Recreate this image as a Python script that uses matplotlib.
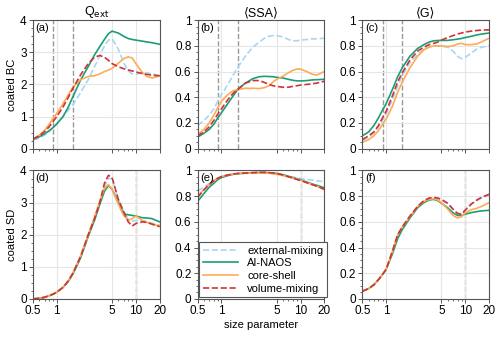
import matplotlib
matplotlib.use("Agg")
import matplotlib.pyplot as plt
from matplotlib.ticker import FixedLocator, NullFormatter, MultipleLocator

plt.rcParams['font.family'] = ['Liberation Sans', 'DejaVu Sans']
plt.rcParams['font.size'] = 8

# size parameter grid
x = [0.5, 0.6, 0.7, 0.8, 0.9, 1.0, 1.2, 1.4, 1.6, 2.0, 2.5, 3.0, 3.5, 4.0, 4.5,
     5, 6, 7, 8, 9, 10, 12, 14, 16, 20]

# (a) Qext, coated BC
qext_bc_ext = [0.27, 0.33, 0.42, 0.53, 0.66, 0.78, 1.0, 1.2, 1.37, 1.75, 2.15, 2.55, 2.9, 3.2, 3.38,
               3.42, 3.1, 2.68, 2.42, 2.33, 2.32, 2.36, 2.36, 2.33, 2.27]
qext_bc_ai = [0.29, 0.37, 0.46, 0.56, 0.66, 0.77, 1.0, 1.3, 1.62, 2.14, 2.56, 2.92, 3.18, 3.4, 3.58,
              3.66, 3.6, 3.5, 3.43, 3.4, 3.38, 3.35, 3.32, 3.3, 3.25]
qext_bc_cs = [0.3, 0.42, 0.57, 0.76, 0.95, 1.1, 1.4, 1.68, 1.92, 2.15, 2.25, 2.27, 2.33, 2.4, 2.45,
              2.5, 2.66, 2.8, 2.86, 2.82, 2.65, 2.38, 2.24, 2.2, 2.27]
qext_bc_vm = [0.3, 0.4, 0.53, 0.68, 0.85, 1.0, 1.3, 1.6, 1.88, 2.3, 2.65, 2.85, 2.9, 2.85, 2.75,
              2.65, 2.55, 2.49, 2.45, 2.42, 2.39, 2.34, 2.31, 2.29, 2.27]

# (b) SSA, coated BC
ssa_bc_ext = [0.18, 0.22, 0.26, 0.31, 0.37, 0.42, 0.5, 0.57, 0.63, 0.72, 0.79, 0.83, 0.86, 0.875, 0.88,
              0.88, 0.87, 0.85, 0.84, 0.84, 0.845, 0.85, 0.855, 0.855, 0.86]
ssa_bc_ai = [0.09, 0.12, 0.15, 0.19, 0.24, 0.28, 0.35, 0.41, 0.46, 0.51, 0.545, 0.56, 0.563, 0.562, 0.56,
             0.555, 0.55, 0.54, 0.532, 0.528, 0.527, 0.53, 0.535, 0.537, 0.54]
ssa_bc_cs = [0.11, 0.15, 0.2, 0.26, 0.32, 0.37, 0.42, 0.45, 0.46, 0.47, 0.47, 0.468, 0.475, 0.49, 0.52,
             0.54, 0.565, 0.59, 0.61, 0.62, 0.62, 0.6, 0.58, 0.573, 0.6]
ssa_bc_vm = [0.1, 0.13, 0.17, 0.22, 0.27, 0.31, 0.38, 0.43, 0.46, 0.51, 0.53, 0.53, 0.515, 0.5, 0.49,
             0.485, 0.478, 0.478, 0.485, 0.49, 0.495, 0.5, 0.505, 0.51, 0.525]

# (c) G, coated BC
g_bc_ext = [0.065, 0.09, 0.12, 0.17, 0.22, 0.27, 0.38, 0.49, 0.57, 0.67, 0.735, 0.775, 0.795, 0.8, 0.8,
            0.8, 0.79, 0.76, 0.72, 0.7, 0.71, 0.745, 0.775, 0.79, 0.8]
g_bc_ai = [0.1, 0.13, 0.18, 0.24, 0.3, 0.35, 0.46, 0.56, 0.63, 0.72, 0.78, 0.81, 0.83, 0.84, 0.842,
           0.843, 0.843, 0.848, 0.853, 0.858, 0.865, 0.875, 0.885, 0.892, 0.9]
g_bc_cs = [0.05, 0.07, 0.1, 0.14, 0.19, 0.23, 0.33, 0.44, 0.52, 0.63, 0.72, 0.77, 0.79, 0.8, 0.8,
           0.8, 0.795, 0.8, 0.815, 0.82, 0.81, 0.81, 0.815, 0.83, 0.86]
g_bc_vm = [0.07, 0.1, 0.13, 0.18, 0.24, 0.29, 0.41, 0.52, 0.59, 0.69, 0.76, 0.79, 0.81, 0.82, 0.83,
           0.845, 0.865, 0.88, 0.893, 0.9, 0.908, 0.915, 0.92, 0.923, 0.925]

# (d) Qext, coated SD
qext_sd_ext = [0.0, 0.02, 0.05, 0.1, 0.15, 0.21, 0.36, 0.56, 0.8, 1.32, 2.0, 2.5, 3.0, 3.5, 3.75,
               3.75, 3.1, 2.72, 2.48, 2.42, 2.45, 2.42, 2.4, 2.35, 2.3]
qext_sd_ai = [0.0, 0.02, 0.05, 0.1, 0.15, 0.21, 0.36, 0.55, 0.78, 1.28, 1.95, 2.45, 2.95, 3.35, 3.53,
              3.42, 3.0, 2.65, 2.62, 2.6, 2.58, 2.53, 2.52, 2.5, 2.4]
qext_sd_cs = [0.0, 0.02, 0.05, 0.1, 0.15, 0.21, 0.37, 0.57, 0.82, 1.33, 2.0, 2.55, 3.05, 3.45, 3.56,
              3.42, 2.95, 2.6, 2.45, 2.5, 2.58, 2.45, 2.38, 2.33, 2.27]
qext_sd_vm = [0.0, 0.02, 0.05, 0.1, 0.15, 0.21, 0.36, 0.56, 0.8, 1.32, 2.0, 2.5, 3.0, 3.6, 3.85,
              3.78, 3.1, 2.72, 2.4, 2.27, 2.35, 2.4, 2.38, 2.33, 2.25]

# (e) SSA, coated SD
ssa_sd_ext = [0.84, 0.87, 0.9, 0.925, 0.94, 0.95, 0.965, 0.972, 0.976, 0.978, 0.98, 0.982, 0.982, 0.98, 0.978,
              0.975, 0.965, 0.955, 0.948, 0.942, 0.937, 0.93, 0.925, 0.92, 0.912]
ssa_sd_ai = [0.76, 0.82, 0.87, 0.9, 0.93, 0.945, 0.96, 0.97, 0.975, 0.98, 0.983, 0.985, 0.985, 0.983, 0.98,
             0.977, 0.967, 0.955, 0.945, 0.935, 0.928, 0.91, 0.895, 0.885, 0.865]
ssa_sd_cs = [0.8, 0.85, 0.89, 0.92, 0.94, 0.953, 0.965, 0.972, 0.976, 0.978, 0.98, 0.98, 0.98, 0.978, 0.974,
             0.97, 0.96, 0.95, 0.94, 0.932, 0.925, 0.905, 0.89, 0.878, 0.85]
ssa_sd_vm = [0.79, 0.85, 0.89, 0.92, 0.94, 0.952, 0.965, 0.972, 0.977, 0.98, 0.983, 0.985, 0.985, 0.983, 0.98,
             0.977, 0.965, 0.952, 0.94, 0.93, 0.922, 0.905, 0.89, 0.878, 0.855]

# (f) G, coated SD
g_sd_ext = [0.06, 0.08, 0.11, 0.15, 0.19, 0.23, 0.37, 0.5, 0.56, 0.645, 0.72, 0.765, 0.785, 0.79, 0.785,
            0.772, 0.74, 0.695, 0.665, 0.665, 0.695, 0.74, 0.765, 0.785, 0.805]
g_sd_ai = [0.06, 0.08, 0.11, 0.15, 0.19, 0.23, 0.35, 0.47, 0.54, 0.63, 0.71, 0.75, 0.77, 0.775, 0.765,
           0.745, 0.71, 0.67, 0.65, 0.65, 0.66, 0.672, 0.68, 0.685, 0.69]
g_sd_cs = [0.06, 0.08, 0.11, 0.15, 0.19, 0.23, 0.37, 0.5, 0.56, 0.64, 0.72, 0.76, 0.775, 0.78, 0.77,
           0.75, 0.7, 0.65, 0.63, 0.64, 0.67, 0.695, 0.705, 0.72, 0.75]
g_sd_vm = [0.06, 0.08, 0.11, 0.15, 0.19, 0.23, 0.37, 0.5, 0.56, 0.645, 0.72, 0.765, 0.785, 0.79, 0.785,
           0.775, 0.745, 0.7, 0.665, 0.66, 0.69, 0.74, 0.77, 0.79, 0.815]

labels = ['external-mixing', 'AI-NAOS', 'core-shell', 'volume-mixing']
colors = ['#a9d6f5', '#1a9e76', '#fdab54', '#d03236']
styles = ['--', '-', '-', '--']

panels = [
    [qext_bc_ext, qext_bc_ai, qext_bc_cs, qext_bc_vm],
    [ssa_bc_ext, ssa_bc_ai, ssa_bc_cs, ssa_bc_vm],
    [g_bc_ext, g_bc_ai, g_bc_cs, g_bc_vm],
    [qext_sd_ext, qext_sd_ai, qext_sd_cs, qext_sd_vm],
    [ssa_sd_ext, ssa_sd_ai, ssa_sd_cs, ssa_sd_vm],
    [g_sd_ext, g_sd_ai, g_sd_cs, g_sd_vm],
]
titles = ['Q$_{\\rm ext}$', '\u27e8SSA\u27e9', '\u27e8G\u27e9']
tags = ['(a)', '(b)', '(c)', '(d)', '(e)', '(f)']
vlines_top = [0.9, 1.6]
vlines_bot = [10]

fig, axes = plt.subplots(2, 3, figsize=(5, 3.37), dpi=100)
fig.subplots_adjust(left=0.066, right=0.978, top=0.94, bottom=0.113, wspace=0.3, hspace=0.17)

for i, ax in enumerate(axes.flat):
    for ys, c, ls, lab in zip(panels[i], colors, styles, labels):
        ax.plot(x, ys, color=c, ls=ls, lw=1.2, label=lab)
    for v in (vlines_top if i < 3 else vlines_bot):
        ax.axvline(v, color='#999999', ls='--', lw=1, zorder=0)
    ax.set_xscale('log')
    ax.set_xlim(0.5, 20)
    if i % 3 == 0:
        ax.set_ylim(0, 4)
        ax.yaxis.set_major_locator(MultipleLocator(1))
        ax.yaxis.set_minor_locator(MultipleLocator(0.25))
    else:
        ax.set_ylim(0, 1)
        ax.yaxis.set_major_locator(MultipleLocator(0.2))
        ax.yaxis.set_minor_locator(MultipleLocator(0.05))
    ax.xaxis.set_major_locator(FixedLocator([0.5, 1, 5, 10, 20]))
    ax.xaxis.set_minor_locator(FixedLocator([0.6, 0.7, 0.8, 0.9, 6, 7, 8, 9]))
    ax.xaxis.set_minor_formatter(NullFormatter())
    if i < 3:
        ax.set_xticklabels([])
        ax.set_title(titles[i], fontsize=9, pad=3)
    else:
        ax.set_xticklabels(['0.5', '1', '5', '10', '20'])
    ax.yaxis.set_major_formatter(plt.FuncFormatter(lambda v, p: '%g' % round(v, 2)))
    ax.grid(True, which='major', color='#e6e6e6', lw=0.8)
    ax.set_axisbelow(True)
    for s in ax.spines.values():
        s.set_color('#555555')
        s.set_linewidth(0.8)
    ax.tick_params(which='major', length=3, width=0.7, color='#555555', labelsize=8.5, pad=1.5)
    ax.tick_params(which='minor', length=1.5, width=0.6, color='#555555')
    ax.text(0.02, 0.98, tags[i], transform=ax.transAxes, ha='left', va='top', fontsize=8)

axes[0, 0].set_ylabel('coated BC', fontsize=8, labelpad=2)
axes[1, 0].set_ylabel('coated SD', fontsize=8, labelpad=2)
axes[1, 1].set_xlabel('size parameter', fontsize=8, labelpad=2)
leg = axes[1, 1].legend(loc='lower left', fontsize=8, frameon=True, fancybox=False,
                        edgecolor='#555555', framealpha=1, borderpad=0.3, labelspacing=0.25,
                        handlelength=3.2, borderaxespad=0.15)
leg.get_frame().set_linewidth(0.8)

fig.savefig('out.png', dpi=100)
